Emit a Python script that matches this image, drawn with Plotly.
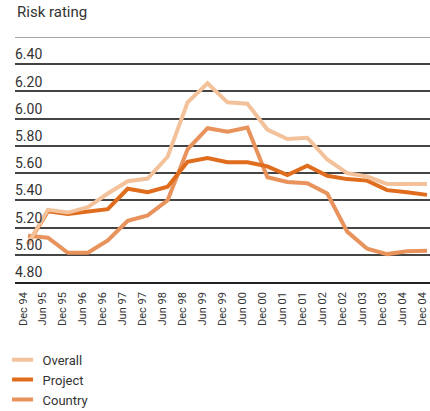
import plotly.graph_objects as go

periods = ["Dec 94", "Jun 95", "Dec 95", "Jun 96", "Dec 96", "Jun 97", "Dec 97",
           "Jun 98", "Dec 98", "Jun 99", "Dec 99", "Jun 00", "Dec 00", "Jun 01",
           "Dec 01", "Jun 02", "Dec 02", "Jun 03", "Dec 03", "Jun 04", "Dec 04"]

overall = [5.08, 5.33, 5.31, 5.35, 5.45, 5.54, 5.56, 5.72, 6.12, 6.26, 6.12,
           6.11, 5.92, 5.85, 5.86, 5.70, 5.60, 5.575, 5.52, 5.52, 5.52]
project = [5.08, 5.32, 5.30, 5.32, 5.335, 5.485, 5.46, 5.50, 5.683, 5.71, 5.68,
           5.68, 5.65, 5.585, 5.655, 5.58, 5.556, 5.545, 5.475, 5.46, 5.44]
country = [5.14, 5.125, 5.015, 5.015, 5.105, 5.25, 5.29, 5.40, 5.775, 5.93, 5.905,
           5.935, 5.57, 5.535, 5.525, 5.45, 5.17, 5.045, 5.005, 5.025, 5.03]

y_ticks = [4.80, 5.00, 5.20, 5.40, 5.60, 5.80, 6.00, 6.20, 6.40, 6.60]
y_labels = ["4.80", "5.00", "5.20", "5.40", "5.60", "5.80", "6.00", "6.20", "6.40", ""]

series = [("Overall", overall, "#F3C29B"),
          ("Project", project, "#E06C1E"),
          ("Country", country, "#E8925C")]

FONT = "Liberation Sans Narrow, Roboto, Arial, sans-serif"

fig = go.Figure()
# lines (drawn Country, Project, Overall so Overall sits on top)
for name, vals, col in reversed(series):
    fig.add_trace(go.Scatter(x=periods, y=vals, name=name, mode="lines",
                             line=dict(color=col, width=4), showlegend=False))
# legend swatches (short thick dashes)
for name, vals, col in series:
    fig.add_trace(go.Scatter(x=[None], y=[None], name=name, mode="markers",
                             marker=dict(symbol="line-ew", size=15,
                                         line=dict(width=4, color=col)),
                             showlegend=True))

fig.update_layout(
    width=430, height=411,
    margin=dict(l=15, r=0, t=37, b=129, autoexpand=False),
    paper_bgcolor="white", plot_bgcolor="white",
    font=dict(family=FONT, color="#333333", size=14),
    showlegend=True,
    legend=dict(x=-0.03, xanchor="left", y=-0.256, yanchor="top",
                orientation="v", font=dict(size=13, color="#333333"),
                bgcolor="rgba(0,0,0,0)", tracegroupgap=0, traceorder="normal"),
    annotations=[dict(text="Risk rating", xref="paper", yref="paper",
                      x=0, y=1, xanchor="left", yanchor="bottom", yshift=14,
                      showarrow=False, font=dict(size=15, color="#333333"))],
)
fig.update_xaxes(type="category", range=[-0.65, 20.15], showgrid=False,
                 tickangle=-90, tickfont=dict(size=11, color="#333333"),
                 ticks="", showline=True, linecolor="#222222", linewidth=1.5,
                 ticklabelshift=-5, ticklabelstandoff=4, automargin=False,
                 ticklabeloverflow="allow")
fig.update_yaxes(range=[4.8, 6.6], tickvals=y_ticks, ticktext=y_labels,
                 showgrid=True, gridcolor="#444444", gridwidth=1.5,
                 zeroline=False, showline=False, ticks="", automargin=False,
                 ticklabelposition="inside top", ticklabelstandoff=-3,
                 ticklabeloverflow="allow",
                 tickfont=dict(size=14, color="#333333"))
fig.add_hline(y=6.6, line_color="#888888", line_width=1.5)

fig.write_html("out.html")
